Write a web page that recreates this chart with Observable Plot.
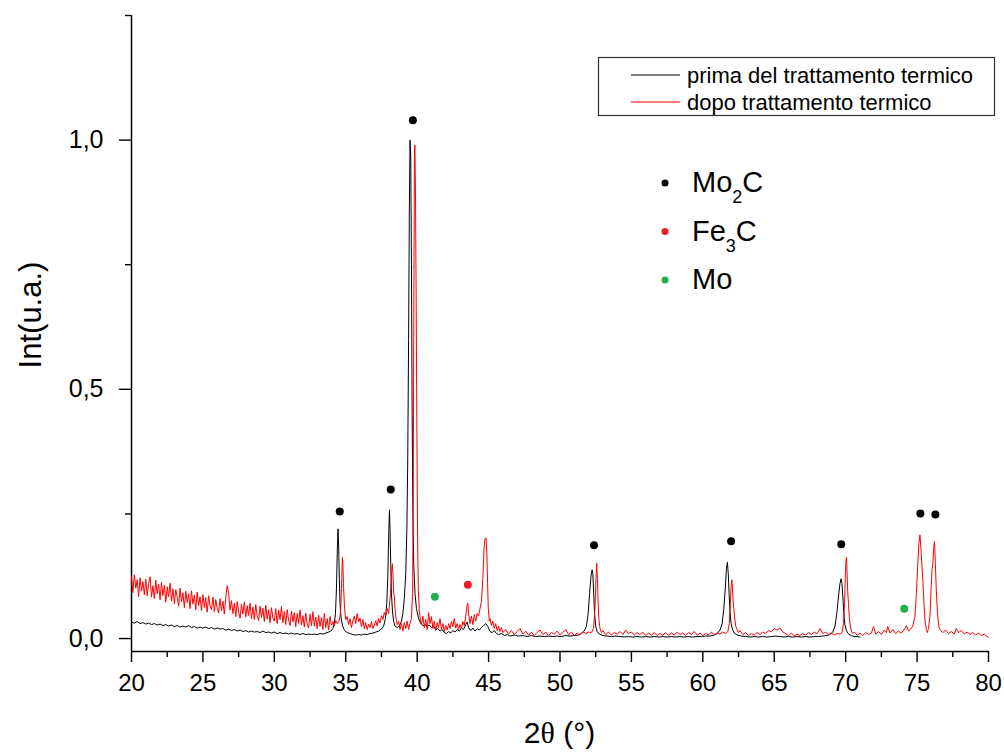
<!DOCTYPE html>
<html>
<head>
<meta charset="utf-8">
<script src="https://cdn.jsdelivr.net/npm/d3@7"></script>
<script src="https://cdn.jsdelivr.net/npm/@observablehq/plot@0.6"></script>
<style>
  html, body { margin: 0; padding: 0; background: #fff; }
  #chart { width: 1004px; height: 753px; }
</style>
</head>
<body>
<div id="chart"></div>
<script>
// ---- series: [2θ (°), intensity (u.a.)] ----
const blackPattern = [
  [20.0,0.033],[20.2,0.031],[20.4,0.034],[20.6,0.030],[20.8,0.032],[21.0,0.029],[21.2,0.031],[21.4,0.028],[21.6,0.030],[21.8,0.027],
  [22.0,0.029],[22.2,0.026],[22.4,0.028],[22.6,0.025],[22.8,0.027],[23.0,0.024],[23.2,0.026],[23.4,0.023],[23.6,0.025],[23.8,0.023],
  [24.0,0.026],[24.2,0.022],[24.4,0.024],[24.6,0.021],[24.8,0.023],[25.0,0.021],[25.2,0.023],[25.4,0.020],[25.6,0.022],[25.8,0.019],
  [26.0,0.021],[26.2,0.019],[26.4,0.020],[26.6,0.017],[26.8,0.019],[27.0,0.016],[27.2,0.018],[27.4,0.015],[27.6,0.017],[27.8,0.014],
  [28.0,0.016],[28.2,0.013],[28.4,0.015],[28.6,0.013],[28.8,0.014],[29.0,0.012],[29.2,0.015],[29.4,0.012],[29.6,0.013],[29.8,0.011],
  [30.0,0.013],[30.2,0.010],[30.4,0.012],[30.6,0.010],[30.8,0.011],[31.0,0.009],[31.2,0.011],[31.4,0.009],[31.6,0.010],[31.8,0.008],
  [32.0,0.010],[32.2,0.008],[32.4,0.009],[32.6,0.008],[32.8,0.009],[33.0,0.008],[33.2,0.010],[33.4,0.009],[33.6,0.011],[33.8,0.013],
  [34.0,0.016],[34.1,0.02],[34.2,0.03],[34.28,0.05],[34.35,0.1],[34.41,0.18],[34.46,0.22],[34.5,0.19],[34.55,0.12],[34.6,0.07],
  [34.68,0.04],[34.78,0.025],[34.9,0.017],[35.1,0.012],[35.3,0.010],[35.5,0.008],[35.7,0.007],[35.9,0.008],[36.1,0.007],[36.3,0.009],
  [36.5,0.008],[36.7,0.010],[36.9,0.011],[37.1,0.013],[37.3,0.015],[37.5,0.019],[37.65,0.025],[37.78,0.04],[37.87,0.07],[37.94,0.12],
  [38.0,0.2],[38.06,0.258],[38.1,0.22],[38.15,0.15],[38.2,0.09],[38.27,0.055],[38.35,0.035],[38.45,0.025],[38.6,0.022],[38.75,0.025],
  [38.9,0.035],[39.0,0.05],[39.1,0.08],[39.2,0.13],[39.28,0.22],[39.34,0.36],[39.4,0.6],[39.45,0.85],[39.5,1.0],[39.55,0.97],
  [39.6,0.75],[39.65,0.45],[39.7,0.25],[39.76,0.15],[39.85,0.09],[39.95,0.06],[40.1,0.04],[40.25,0.03],[40.4,0.026],[40.55,0.028],
  [40.7,0.024],[40.85,0.027],[41.0,0.022],[41.15,0.025],[41.3,0.018],[41.45,0.020],[41.6,0.015],[41.75,0.018],[41.9,0.012],[42.05,0.010],
  [42.2,0.014],[42.35,0.011],[42.5,0.016],[42.65,0.013],[42.8,0.018],[42.95,0.015],[43.1,0.021],[43.25,0.018],[43.4,0.028],[43.5,0.033],
  [43.6,0.022],[43.75,0.016],[43.9,0.021],[44.05,0.015],[44.2,0.020],[44.35,0.017],[44.5,0.022],[44.65,0.026],[44.8,0.030],[44.95,0.024],
  [45.1,0.014],[45.25,0.012],[45.4,0.016],[45.55,0.010],[45.7,0.008],[45.9,0.010],[46.1,0.006],[46.3,0.008],[46.5,0.005],[46.8,0.007],
  [47.1,0.005],[47.4,0.006],[47.7,0.004],[48.0,0.006],[48.3,0.004],[48.6,0.005],[48.9,0.004],[49.2,0.005],[49.5,0.004],[49.8,0.005],
  [50.1,0.004],[50.4,0.006],[50.7,0.005],[51.0,0.006],[51.3,0.007],[51.5,0.010],[51.7,0.015],[51.85,0.025],[51.97,0.05],[52.07,0.09],
  [52.17,0.125],[52.25,0.138],[52.3,0.13],[52.36,0.09],[52.42,0.05],[52.5,0.025],[52.6,0.014],[52.75,0.009],[53.0,0.006],[53.3,0.005],
  [53.6,0.004],[53.9,0.005],[54.2,0.004],[54.5,0.003],[54.8,0.004],[55.1,0.003],[55.4,0.004],[55.7,0.003],[56.0,0.004],[56.3,0.003],
  [56.6,0.004],[56.9,0.003],[57.2,0.004],[57.5,0.003],[57.8,0.004],[58.1,0.003],[58.4,0.004],[58.7,0.003],[59.0,0.004],[59.3,0.003],
  [59.6,0.004],[59.9,0.004],[60.2,0.005],[60.5,0.005],[60.8,0.007],[61.0,0.010],[61.2,0.017],[61.35,0.03],[61.47,0.06],[61.57,0.1],
  [61.65,0.14],[61.72,0.153],[61.78,0.13],[61.84,0.09],[61.9,0.055],[61.98,0.03],[62.08,0.018],[62.2,0.011],[62.4,0.007],[62.7,0.005],
  [63.0,0.004],[63.3,0.003],[63.6,0.004],[63.9,0.003],[64.2,0.004],[64.5,0.003],[64.8,0.004],[65.1,0.005],[65.4,0.004],[65.7,0.003],
  [66.0,0.004],[66.3,0.003],[66.6,0.004],[66.9,0.003],[67.2,0.004],[67.5,0.003],[67.8,0.004],[68.1,0.004],[68.4,0.005],[68.7,0.006],
  [68.9,0.008],[69.1,0.013],[69.25,0.025],[69.38,0.05],[69.5,0.085],[69.6,0.11],[69.68,0.12],[69.74,0.11],[69.8,0.085],[69.87,0.05],
  [69.95,0.028],[70.05,0.016],[70.2,0.009],[70.4,0.006],[70.6,0.004],[70.8,0.004],[71.0,0.003]
];

const redPattern = [
  [20.0,0.124],[20.1,0.092],[20.2,0.128],[20.3,0.101],[20.4,0.118],[20.5,0.084],[20.6,0.122],[20.7,0.095],[20.8,0.114],[20.9,0.088],
  [21.0,0.119],[21.1,0.086],[21.2,0.110],[21.3,0.124],[21.4,0.083],[21.5,0.106],[21.6,0.080],[21.7,0.117],[21.8,0.090],[21.9,0.109],
  [22.0,0.078],[22.1,0.113],[22.2,0.086],[22.3,0.107],[22.4,0.073],[22.5,0.104],[22.6,0.084],[22.7,0.111],[22.8,0.075],[22.9,0.100],
  [23.0,0.070],[23.1,0.098],[23.2,0.083],[23.3,0.065],[23.4,0.101],[23.5,0.074],[23.6,0.092],[23.7,0.062],[23.8,0.095],[23.9,0.072],
  [24.0,0.090],[24.1,0.060],[24.2,0.096],[24.3,0.069],[24.4,0.087],[24.5,0.058],[24.6,0.093],[24.7,0.066],[24.8,0.084],[24.9,0.056],
  [25.0,0.088],[25.1,0.062],[25.2,0.082],[25.3,0.053],[25.4,0.086],[25.5,0.065],[25.6,0.058],[25.7,0.083],[25.8,0.054],[25.9,0.078],
  [26.0,0.061],[26.1,0.051],[26.2,0.080],[26.3,0.056],[26.4,0.075],[26.5,0.049],[26.6,0.082],[26.7,0.106],[26.8,0.090],[26.9,0.057],
  [27.0,0.076],[27.1,0.050],[27.2,0.071],[27.3,0.044],[27.4,0.074],[27.5,0.053],[27.6,0.041],[27.7,0.069],[27.8,0.049],[27.9,0.073],
  [28.0,0.043],[28.1,0.066],[28.2,0.046],[28.3,0.071],[28.4,0.040],[28.5,0.063],[28.6,0.038],[28.7,0.068],[28.8,0.045],[28.9,0.036],
  [29.0,0.065],[29.1,0.042],[29.2,0.061],[29.3,0.034],[29.4,0.067],[29.5,0.039],[29.6,0.058],[29.7,0.032],[29.8,0.062],[29.9,0.041],
  [30.0,0.035],[30.1,0.060],[30.2,0.030],[30.3,0.057],[30.4,0.038],[30.5,0.065],[30.6,0.032],[30.7,0.054],[30.8,0.028],[30.9,0.058],
  [31.0,0.037],[31.1,0.026],[31.2,0.055],[31.3,0.033],[31.4,0.052],[31.5,0.024],[31.6,0.050],[31.7,0.030],[31.8,0.057],[31.9,0.027],
  [32.0,0.046],[32.1,0.023],[32.2,0.051],[32.3,0.029],[32.4,0.021],[32.5,0.049],[32.6,0.026],[32.7,0.054],[32.8,0.025],[32.9,0.043],
  [33.0,0.020],[33.1,0.047],[33.2,0.024],[33.3,0.042],[33.4,0.018],[33.5,0.050],[33.6,0.022],[33.7,0.040],[33.8,0.017],[33.9,0.044],
  [34.0,0.027],[34.1,0.034],[34.2,0.025],[34.3,0.036],[34.4,0.030],[34.5,0.033],[34.6,0.045],[34.65,0.06],[34.7,0.10],[34.74,0.14],
  [34.77,0.163],[34.8,0.15],[34.84,0.11],[34.9,0.07],[34.95,0.05],[35.0,0.038],[35.1,0.044],[35.2,0.028],[35.3,0.040],[35.4,0.022],
  [35.5,0.036],[35.6,0.045],[35.7,0.030],[35.8,0.050],[35.9,0.033],[36.0,0.041],[36.1,0.024],[36.2,0.038],[36.3,0.020],[36.4,0.032],
  [36.5,0.018],[36.6,0.029],[36.7,0.022],[36.8,0.034],[36.9,0.020],[37.0,0.027],[37.1,0.036],[37.2,0.025],[37.3,0.040],[37.4,0.031],
  [37.5,0.046],[37.6,0.038],[37.7,0.052],[37.8,0.045],[37.9,0.06],[38.0,0.05],[38.05,0.065],[38.1,0.08],[38.15,0.10],[38.2,0.13],
  [38.27,0.15],[38.32,0.12],[38.36,0.09],[38.4,0.085],[38.45,0.06],[38.5,0.045],[38.6,0.028],[38.7,0.035],[38.8,0.018],[38.9,0.030],
  [39.0,0.015],[39.1,0.032],[39.2,0.020],[39.3,0.035],[39.4,0.018],[39.5,0.030],[39.6,0.04],[39.68,0.09],[39.73,0.3],[39.77,0.7],
  [39.81,0.97],[39.84,0.99],[39.88,0.9],[39.93,0.68],[39.98,0.42],[40.03,0.2],[40.08,0.1],[40.15,0.055],[40.22,0.04],[40.3,0.028],
  [40.4,0.045],[40.5,0.022],[40.6,0.038],[40.7,0.018],[40.8,0.052],[40.9,0.030],[41.0,0.044],[41.1,0.020],[41.2,0.035],[41.3,0.016],
  [41.4,0.032],[41.5,0.022],[41.6,0.040],[41.7,0.018],[41.8,0.030],[41.9,0.014],[42.0,0.026],[42.1,0.017],[42.2,0.030],[42.3,0.020],
  [42.4,0.034],[42.5,0.024],[42.6,0.040],[42.7,0.021],[42.8,0.030],[42.9,0.018],[43.0,0.028],[43.1,0.020],[43.2,0.034],[43.3,0.026],
  [43.4,0.045],[43.5,0.068],[43.55,0.071],[43.6,0.05],[43.7,0.03],[43.8,0.045],[43.9,0.028],[44.0,0.048],[44.1,0.035],[44.2,0.05],
  [44.3,0.045],[44.4,0.06],[44.5,0.075],[44.6,0.12],[44.68,0.18],[44.75,0.2],[44.82,0.202],[44.88,0.17],[44.93,0.11],[44.98,0.06],
  [45.05,0.035],[45.1,0.04],[45.2,0.026],[45.3,0.035],[45.4,0.02],[45.5,0.03],[45.6,0.016],[45.7,0.025],[45.8,0.014],[45.9,0.022],
  [46.0,0.012],[46.2,0.018],[46.4,0.009],[46.6,0.016],[46.8,0.008],[47.0,0.014],[47.2,0.020],[47.4,0.009],[47.6,0.015],[47.8,0.007],
  [48.0,0.013],[48.2,0.006],[48.4,0.012],[48.6,0.017],[48.8,0.008],[49.0,0.013],[49.2,0.006],[49.4,0.012],[49.6,0.009],[49.8,0.015],
  [50.0,0.007],[50.2,0.012],[50.4,0.018],[50.6,0.008],[50.8,0.013],[51.0,0.006],[51.2,0.011],[51.4,0.007],[51.6,0.014],[51.8,0.010],
  [52.0,0.013],[52.2,0.012],[52.35,0.02],[52.45,0.06],[52.52,0.12],[52.57,0.151],[52.62,0.12],[52.67,0.07],[52.72,0.04],[52.8,0.02],
  [52.9,0.012],[53.0,0.016],[53.2,0.008],[53.4,0.013],[53.6,0.007],[53.8,0.012],[54.0,0.009],[54.2,0.014],[54.4,0.008],[54.6,0.017],
  [54.8,0.010],[55.0,0.013],[55.2,0.007],[55.4,0.012],[55.6,0.008],[55.8,0.013],[56.0,0.006],[56.2,0.011],[56.4,0.007],[56.6,0.012],
  [56.8,0.006],[57.0,0.010],[57.2,0.007],[57.4,0.012],[57.6,0.006],[57.8,0.011],[58.0,0.007],[58.2,0.013],[58.4,0.008],[58.6,0.011],
  [58.8,0.006],[59.0,0.012],[59.2,0.008],[59.4,0.014],[59.6,0.007],[59.8,0.011],[60.0,0.006],[60.2,0.010],[60.4,0.007],[60.6,0.013],
  [60.8,0.008],[61.0,0.011],[61.2,0.009],[61.4,0.013],[61.6,0.010],[61.75,0.014],[61.85,0.03],[61.93,0.07],[61.98,0.105],[62.03,0.118],
  [62.08,0.1],[62.12,0.075],[62.17,0.06],[62.22,0.045],[62.3,0.025],[62.4,0.018],[62.5,0.012],[62.6,0.016],[62.8,0.008],[63.0,0.012],
  [63.2,0.006],[63.4,0.010],[63.6,0.007],[63.8,0.012],[64.0,0.008],[64.2,0.013],[64.4,0.010],[64.6,0.016],[64.8,0.014],[65.0,0.020],
  [65.2,0.017],[65.4,0.021],[65.6,0.013],[65.8,0.010],[66.0,0.006],[66.2,0.011],[66.4,0.005],[66.6,0.009],[66.8,0.006],[67.0,0.010],
  [67.2,0.007],[67.4,0.012],[67.6,0.008],[67.8,0.013],[68.0,0.010],[68.2,0.020],[68.4,0.010],[68.6,0.013],[68.8,0.008],[69.0,0.011],
  [69.2,0.007],[69.4,0.010],[69.6,0.009],[69.75,0.012],[69.85,0.03],[69.92,0.07],[69.97,0.12],[70.02,0.155],[70.06,0.163],[70.1,0.13],
  [70.15,0.09],[70.2,0.07],[70.25,0.045],[70.32,0.025],[70.4,0.015],[70.5,0.010],[70.6,0.013],[70.8,0.007],[71.0,0.011],[71.2,0.006],
  [71.4,0.012],[71.6,0.008],[71.8,0.011],[71.95,0.024],[72.1,0.009],[72.3,0.014],[72.5,0.008],[72.7,0.017],[72.85,0.012],[72.95,0.024],
  [73.1,0.011],[73.3,0.018],[73.5,0.010],[73.7,0.015],[73.9,0.011],[74.1,0.018],[74.25,0.026],[74.4,0.015],[74.55,0.019],[74.7,0.025],
  [74.85,0.045],[74.95,0.09],[75.05,0.15],[75.12,0.19],[75.2,0.208],[75.27,0.18],[75.33,0.15],[75.4,0.12],[75.48,0.07],[75.56,0.035],
  [75.65,0.018],[75.72,0.012],[75.8,0.02],[75.9,0.045],[75.98,0.1],[76.05,0.14],[76.1,0.15],[76.16,0.18],[76.22,0.195],[76.28,0.15],
  [76.34,0.1],[76.4,0.065],[76.48,0.035],[76.56,0.02],[76.65,0.016],[76.8,0.012],[77.0,0.017],[77.2,0.010],[77.4,0.014],[77.6,0.009],
  [77.75,0.020],[77.9,0.012],[78.1,0.016],[78.3,0.009],[78.5,0.013],[78.7,0.008],[78.9,0.012],[79.1,0.007],[79.3,0.011],[79.5,0.006],
  [79.7,0.009],[79.9,0.004],[79.98,0.003]
];

// ---- phase markers ----
const mo2cTheta = [34.58, 38.15, 39.7, 52.38, 61.98, 69.69, 75.23, 76.28];
const mo2cInt   = [0.255, 0.299, 1.040, 0.187, 0.195, 0.189, 0.251, 0.249];
const fe3cTheta = [43.55];
const fe3cInt   = [0.108];
const moTheta   = [41.24, 74.1];
const moInt     = [0.084, 0.060];

// ---- axis ticks / labels ----
const xMajorTicks = [20, 25, 30, 35, 40, 45, 50, 55, 60, 65, 70, 75, 80];
const xMinorTicks = [22.5, 27.5, 32.5, 37.5, 42.5, 47.5, 52.5, 57.5, 62.5, 67.5, 72.5, 77.5];
const yMajorTicks = [0, 0.5, 1.0];
const yMinorTicks = [0.25, 0.75, 1.25];
const seriesNames = ["prima del trattamento termico", "dopo trattamento termico"];
const seriesColors = ["#000000", "#ff0000"];
const phaseNames = [["Mo", "2", "C"], ["Fe", "3", "C"], ["Mo", "", ""]];
const phaseColors = ["#000000", "#ed1c24", "#22b14c"];

const xDomain = [20, 80];
const yDomain = [-0.026, 1.25];

const markers = [
  ...mo2cTheta.map((t, i) => ({t, v: mo2cInt[i], c: phaseColors[0]})),
  ...fe3cTheta.map((t, i) => ({t, v: fe3cInt[i], c: phaseColors[1]})),
  ...moTheta.map((t, i) => ({t, v: moInt[i], c: phaseColors[2]}))
];

const commaFmt = d => d.toFixed(1).replace(".", ",");
const FONT = "'Liberation Sans', Arial, sans-serif";

const chart = Plot.plot({
  width: 1004,
  height: 753,
  marginLeft: 131,
  marginRight: 16,
  marginTop: 15,
  marginBottom: 102,
  style: {fontFamily: FONT, background: "#fff", color: "#000"},
  x: {domain: xDomain},
  y: {domain: yDomain},
  marks: [
    Plot.axisX(xMajorTicks, {tickSize: 11, tickPadding: 11, fontSize: 24, label: null, tickFormat: d => String(d), strokeWidth: 1.4}),
    Plot.axisX(xMinorTicks, {tickSize: 6, tickFormat: () => "", label: null, strokeWidth: 1.4}),
    Plot.axisY(yMajorTicks, {tickSize: 12, tickPadding: 16, fontSize: 25, label: null, tickFormat: commaFmt, strokeWidth: 1.4}),
    Plot.axisY(yMinorTicks, {tickSize: 6, tickFormat: () => "", label: null, strokeWidth: 1.4}),
    Plot.ruleX([xDomain[0]], {stroke: "#000", strokeWidth: 1.5}),
    Plot.ruleY([yDomain[0]], {stroke: "#000", strokeWidth: 1.5}),
    Plot.line(blackPattern, {x: d => d[0], y: d => d[1], stroke: seriesColors[0], strokeWidth: 1}),
    Plot.line(redPattern, {x: d => d[0], y: d => d[1], stroke: seriesColors[1], strokeWidth: 1}),
    Plot.dot(markers, {x: "t", y: "v", fill: "c", r: 4, stroke: null})
  ]
});

document.getElementById("chart").appendChild(chart);

// ---- titles and legends (layout only) ----
const svg = d3.select(chart);
const ns = svg.append("g").attr("font-family", FONT).attr("fill", "#000").attr("text-anchor", "start");

// y-axis title
ns.append("text")
  .attr("transform", "translate(41,315) rotate(-90)")
  .attr("text-anchor", "middle")
  .attr("font-size", 31)
  .text("Int(u.a.)");

// x-axis title
const xt = ns.append("text")
  .attr("x", 559.5).attr("y", 743)
  .attr("text-anchor", "middle")
  .attr("font-size", 30);
xt.append("tspan").text("2");
xt.append("tspan").attr("font-family", "'Liberation Serif', 'DejaVu Serif', serif").text("θ");
xt.append("tspan").text(" (°)");

// series legend box
const lg = ns.append("g");
lg.append("rect").attr("x", 598.5).attr("y", 57.5).attr("width", 396).attr("height", 58)
  .attr("fill", "#fff").attr("stroke", "#333").attr("stroke-width", 1.2);
seriesNames.forEach((name, i) => {
  const y = 75 + i * 27;
  lg.append("line").attr("x1", 631).attr("x2", 680).attr("y1", y).attr("y2", y)
    .attr("stroke", seriesColors[i]).attr("stroke-width", 1);
  lg.append("text").attr("x", 687).attr("y", y).attr("dy", "0.35em")
    .attr("text-anchor", "start").attr("font-size", 22).text(name);
});

// phase legend
phaseNames.forEach((p, i) => {
  const base = 192 + i * 48.5;
  ns.append("circle").attr("cx", 665).attr("cy", base - 9).attr("r", 3.5).attr("fill", phaseColors[i]);
  const t = ns.append("text").attr("x", 692).attr("y", base).attr("text-anchor", "start").attr("font-size", 29);
  t.append("tspan").text(p[0]);
  if (p[1]) {
    t.append("tspan").attr("font-size", 18).attr("dy", 11).text(p[1]);
    t.append("tspan").attr("dy", -11).text(p[2]);
  }
});
</script>
</body>
</html>
